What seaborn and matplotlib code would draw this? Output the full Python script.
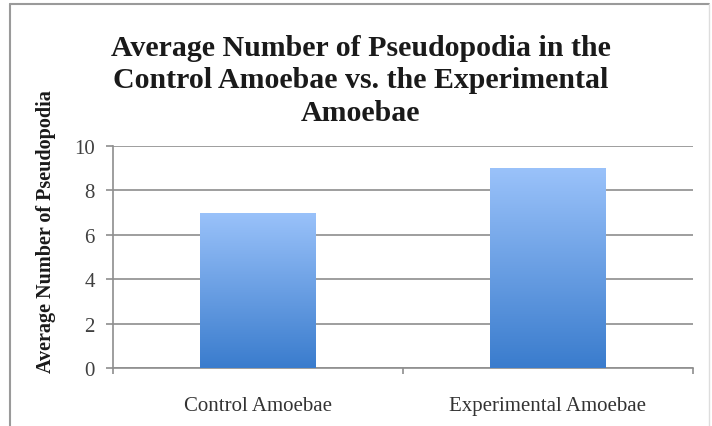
import matplotlib
matplotlib.use("Agg")
import matplotlib.pyplot as plt
import numpy as np
import pandas as pd
import seaborn as sns
from matplotlib.lines import Line2D
from matplotlib.colors import LinearSegmentedColormap

# DATA
groups = ["Control Amoebae", "Experimental Amoebae"]
avg_pseudopodia = [7, 9]
yticks = [0, 2, 4, 6, 8, 10]

df = pd.DataFrame({"group": groups, "value": avg_pseudopodia})

sns.set_style("white")
plt.rcParams['font.family'] = ['Liberation Serif', 'DejaVu Serif']

fig = plt.figure(figsize=(7.12, 4.27), dpi=100)
ax = fig.add_axes([0.1587, 0.1358, 0.8146, 0.5199])

sns.barplot(data=df, x="group", y="value", ax=ax, width=0.4,
            color="#6fa0e6", saturation=1, zorder=2)

# GRADIENT FILL ON BARS
cmap = LinearSegmentedColormap.from_list("bar", ["#3a7ccd", "#9ac2fa"])
grad = np.linspace(0, 1, 256).reshape(-1, 1)
for p in ax.patches:
    x0, y0 = p.get_x(), p.get_y()
    w, h = p.get_width(), p.get_height()
    p.set_facecolor("none")
    p.set_edgecolor("none")
    im = ax.imshow(grad, cmap=cmap, origin="lower", aspect="auto",
                   extent=[x0, x0 + w, y0, y0 + h], zorder=3)
    im.set_clip_path(p)

ax.set_xlim(-0.5, 1.5)
ax.set_ylim(0, 10)
ax.set_yticks(yticks)
ax.set_xticks([-0.5, 0.5, 1.5], minor=True)
ax.yaxis.grid(True, color="#8e8e8e", linewidth=1.2, zorder=0)
ax.set_axisbelow(True)
for s in ["top", "right"]:
    ax.spines[s].set_visible(False)
ax.spines["left"].set_color("#8e8e8e")
ax.spines["bottom"].set_color("#8e8e8e")
ax.spines["left"].set_linewidth(1.2)
ax.spines["bottom"].set_linewidth(1.2)
ax.tick_params(axis="y", length=5, width=1.2, color="#8e8e8e", pad=8,
               labelsize=15, labelcolor="#404040", left=True)
ax.tick_params(axis="x", which="major", length=0, pad=20, labelsize=15, labelcolor="#333333")
ax.tick_params(axis="x", which="minor", length=4, width=1.2, color="#8e8e8e", bottom=True)
ax.set_xlabel("")
ax.set_ylabel("Average Number of Pseudopodia", fontsize=14.5, fontweight="bold",
              color="#1a1a1a")
ax.yaxis.set_label_coords(-0.098, 0.62)

fig.text(0.507, 0.918, "Average Number of Pseudopodia in the\nControl Amoebae vs. the Experimental\nAmoebae",
         ha="center", va="top", fontsize=21.5, fontweight="bold",
         color="#1a1a1a", linespacing=1.26)

# FRAME
gray = "#9a9a9a"
fig.add_artist(Line2D([10/712, 709/712], [1 - 5/427, 1 - 5/427], color=gray, lw=1.5, transform=fig.transFigure))
fig.add_artist(Line2D([10/712, 10/712], [0, 1 - 5/427], color=gray, lw=1.5, transform=fig.transFigure))
fig.add_artist(Line2D([709/712, 709/712], [0, 1 - 5/427], color="#dddddd", lw=1.0, transform=fig.transFigure))

fig.savefig("out.png", dpi=100)
